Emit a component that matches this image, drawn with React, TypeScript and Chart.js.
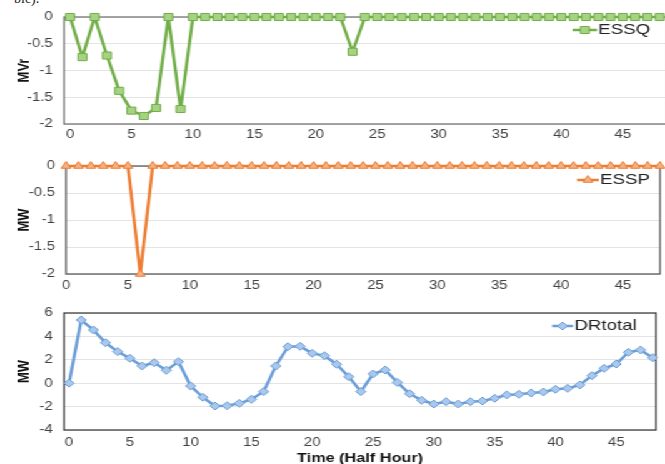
import { useEffect, useRef } from "react";
import Chart from "chart.js/auto";
import { drawPoint } from "chart.js/helpers";

// half-hour slots along the x axis
const halfHours = [
  0, 1, 2, 3, 4, 5, 6, 7, 8, 9, 10, 11, 12, 13, 14, 15, 16, 17, 18, 19, 20, 21, 22, 23, 24,
  25, 26, 27, 28, 29, 30, 31, 32, 33, 34, 35, 36, 37, 38, 39, 40, 41, 42, 43, 44, 45, 46, 47, 48,
];
const xTickValues = [0, 5, 10, 15, 20, 25, 30, 35, 40, 45];

const essq = [
  0, -0.75, 0, -0.72, -1.38, -1.75, -1.85, -1.7, 0, -1.72, 0, 0, 0, 0, 0, 0, 0, 0, 0, 0, 0, 0, 0,
  -0.65, 0, 0, 0, 0, 0, 0, 0, 0, 0, 0, 0, 0, 0, 0, 0, 0, 0, 0, 0, 0, 0, 0, 0, 0, 0,
];
const essp = [
  0, 0, 0, 0, 0, 0, -2, 0, 0, 0, 0, 0, 0, 0, 0, 0, 0, 0, 0, 0, 0, 0, 0, 0, 0,
  0, 0, 0, 0, 0, 0, 0, 0, 0, 0, 0, 0, 0, 0, 0, 0, 0, 0, 0, 0, 0, 0, 0, 0,
];
const drTotal = [
  0, 5.4, 4.55, 3.46, 2.7, 2.13, 1.47, 1.75, 1.1, 1.84, -0.24, -1.2, -1.95, -1.93, -1.72, -1.38,
  -0.72, 1.47, 3.12, 3.15, 2.55, 2.35, 1.62, 0.56, -0.72, 0.79, 1.13, 0.07, -0.9, -1.46, -1.78,
  -1.58, -1.78, -1.58, -1.52, -1.29, -1.0, -0.95, -0.84, -0.75, -0.52, -0.44, -0.15, 0.64, 1.27,
  1.64, 2.64, 2.84, 2.18,
];

// the source image is stretched sideways, so the charts are drawn narrower and scaled in x
const STRETCH = 1.25;
const INNER_W = 540;
const FONT = '"Liberation Sans", Arial, sans-serif';

Chart.defaults.font.family = FONT;

const frame = {
  id: "frame",
  beforeDatasetsDraw(chart: any, _args: any, opts: any) {
    const { ctx, chartArea: a } = chart;
    ctx.save();
    ctx.strokeStyle = opts.color;
    ctx.lineWidth = 1.3;
    ctx.strokeRect(a.left, a.top, a.width, a.height);
    ctx.restore();
  },
};

// Excel style key: short line with the marker on it, then the name
const seriesKey = {
  id: "seriesKey",
  afterDatasetsDraw(chart: any, _args: any, opts: any) {
    const ds = chart.data.datasets[0];
    const { ctx } = chart;
    ctx.save();
    ctx.strokeStyle = ds.borderColor;
    ctx.lineWidth = ds.borderWidth;
    ctx.beginPath();
    ctx.moveTo(opts.x0, opts.y);
    ctx.lineTo(opts.x1, opts.y);
    ctx.stroke();
    ctx.fillStyle = ds.pointBackgroundColor;
    ctx.strokeStyle = ds.pointBorderColor;
    ctx.lineWidth = 1;
    drawPoint(ctx, { pointStyle: ds.pointStyle, radius: ds.pointRadius, rotation: 0, borderWidth: 1 } as any, (opts.x0 + opts.x1) / 2, opts.y);
    ctx.fillStyle = "#222";
    ctx.font = `15px ${FONT}`;
    ctx.textBaseline = "middle";
    ctx.textAlign = "left";
    ctx.fillText(ds.label, opts.x1 + 1, opts.y);
    ctx.restore();
  },
};

function makeConfig(p: any): any {
  return {
    type: "line",
    data: {
      labels: halfHours,
      datasets: [
        {
          label: p.label,
          data: p.data,
          borderColor: p.line,
          borderWidth: 2.5,
          borderJoinStyle: "round",
          borderCapStyle: "round",
          pointStyle: p.pointStyle,
          pointRadius: p.radius,
          pointBackgroundColor: p.fill,
          pointBorderColor: p.line,
          pointBorderWidth: 1,
          tension: 0,
          clip: false,
        },
      ],
    },
    options: {
      animation: false,
      responsive: true,
      maintainAspectRatio: false,
      layout: { padding: { left: 0, top: p.padTop, right: p.padRight, bottom: 0 } },
      plugins: {
        legend: { display: false },
        tooltip: { enabled: false },
        frame: { color: p.frameColor },
        seriesKey: p.key,
      },
      scales: {
        x: {
          type: "linear",
          min: p.xMin,
          max: p.xMax,
          afterBuildTicks: (s: any) => {
            s.ticks = xTickValues.map((v) => ({ value: v }));
          },
          afterFit: (s: any) => {
            s.height = p.xHeight;
          },
          grid: { display: false, drawTicks: false },
          border: { display: false },
          ticks: { padding: p.xPad, autoSkip: false, maxRotation: 0, color: "#404040", font: { size: 12 } },
          title: p.xTitle
            ? {
                display: true,
                text: p.xTitle,
                color: "#111",
                font: { size: 13, weight: "bold" },
                padding: { top: 0, bottom: 3.8 },
              }
            : { display: false },
        },
        y: {
          min: p.yMin,
          max: p.yMax,
          afterFit: (s: any) => {
            s.width = p.plotLeft;
          },
          grid: { color: "#e4e4e4", lineWidth: 1, drawTicks: false },
          border: { display: false },
          ticks: {
            stepSize: p.yStep,
            padding: 9,
            color: "#404040",
            font: { size: 12 },
            callback: (v: number) => String(v),
          },
          title: {
            display: true,
            text: p.yTitle,
            color: "#111",
            font: { size: 13, weight: "bold" },
            padding: { top: 12, bottom: 0 },
          },
        },
      },
    },
    plugins: [frame, seriesKey],
  };
}

function Panel({ top, height, config }: { top: number; height: number; config: any }) {
  const canvasRef = useRef<HTMLCanvasElement>(null);
  useEffect(() => {
    const chart = new Chart(canvasRef.current as HTMLCanvasElement, config);
    return () => {
      chart.destroy();
    };
  }, []);
  return (
    <div style={{ position: "absolute", left: 0, top, width: INNER_W, height }}>
      <canvas ref={canvasRef} />
    </div>
  );
}

const qConfig = makeConfig({
  label: "ESSQ",
  data: essq,
  line: "#72ae48",
  fill: "#a6d283",
  pointStyle: "rect",
  radius: 5,
  yMin: -2,
  yMax: 0,
  yStep: 0.5,
  yTitle: "MVr",
  xMin: -0.49,
  xMax: 48.6,
  plotLeft: 51.2,
  padTop: 17,
  padRight: 6.4,
  xHeight: 21,
  xPad: 3.5,
  frameColor: "#777",
  key: { x0: 458, x1: 477.6, y: 30 },
});

const pConfig = makeConfig({
  label: "ESSP",
  data: essp,
  line: "#ed7d31",
  fill: "#f4b183",
  pointStyle: "triangle",
  radius: 4.5,
  yMin: -2,
  yMax: 0,
  yStep: 0.5,
  yTitle: "MW",
  xMin: 0,
  xMax: 48,
  plotLeft: 52.8,
  padTop: 21,
  padRight: 12,
  xHeight: 21,
  xPad: 4,
  frameColor: "#5a5a5a",
  key: { x0: 461.6, x1: 479, y: 35 },
});

const dConfig = makeConfig({
  label: "DRtotal",
  data: drTotal,
  line: "#6b9dd8",
  fill: "#a8c8ec",
  pointStyle: "rectRot",
  radius: 4,
  yMin: -4,
  yMax: 6,
  yStep: 2,
  yTitle: "MW",
  xMin: -0.41,
  xMax: 48.27,
  plotLeft: 51.2,
  padTop: 18,
  padRight: 15.2,
  xHeight: 40,
  xPad: 5,
  xTitle: "Time (Half Hour)",
  frameColor: "#404040",
  key: { x0: 441.6, x1: 458.4, y: 31 },
});

export default function App() {
  return (
    <div
      style={{
        position: "absolute",
        left: 0,
        top: 0,
        width: 665,
        height: 464,
        overflow: "hidden",
        background: "#fff",
      }}
    >
      <div
        style={{
          position: "absolute",
          left: 14,
          top: -9,
          font: '14px "Liberation Serif", serif',
          color: "#222",
        }}
      >
        ble).
      </div>
      <div
        style={{
          position: "absolute",
          left: 0,
          top: 0,
          width: INNER_W,
          height: 470,
          transform: `scaleX(${STRETCH})`,
          transformOrigin: "0 0",
        }}
      >
        <Panel top={0} height={145} config={qConfig} />
        <Panel top={145} height={150} config={pConfig} />
        <Panel top={295} height={175} config={dConfig} />
      </div>
    </div>
  );
}
